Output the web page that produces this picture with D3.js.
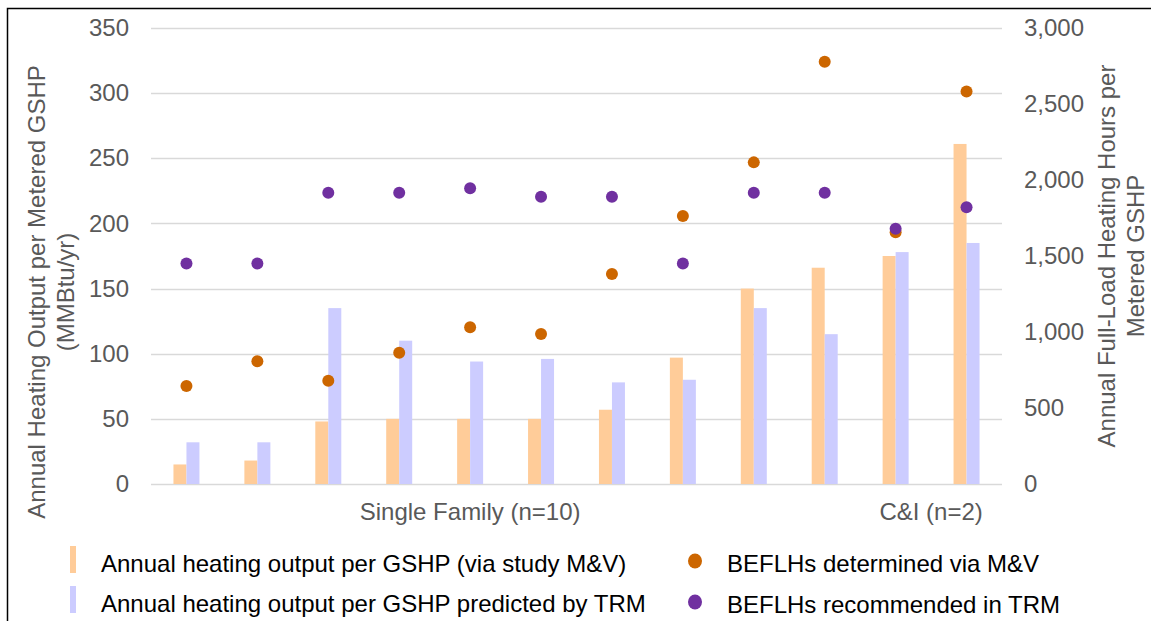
<!DOCTYPE html>
<html>
<head>
<meta charset="utf-8">
<script src="https://cdn.jsdelivr.net/npm/d3@7"></script>
<style>
  body { margin: 0; background: #fff; }
  svg { display: block; font-family: "Liberation Sans", Arial, sans-serif; }
</style>
</head>
<body>
<div id="container"></div>
<script>
var width = 1151;
var height = 621;

// one entry per metered site
var categories = ["SF1","SF2","SF3","SF4","SF5","SF6","SF7","SF8","SF9","SF10","CI1","CI2"];
// MMBtu/yr (left axis)
var mvOutput  = [15, 18, 48, 50, 50, 50, 57, 97, 150, 166, 175, 261];
var trmOutput = [32, 32, 135, 110, 94, 96, 78, 80, 135, 115, 178, 185];
// hours (right axis)
var mvBeflh  = [645, 807, 680, 864, 1031, 987, 1382, 1763, 2116, 2778, 1656, 2583];
var trmBeflh = [1450, 1450, 1916, 1916, 1945, 1890, 1890, 1450, 1916, 1916, 1680, 1820];

var leftTicks = [0, 50, 100, 150, 200, 250, 300, 350];
var rightTicks = [0, 500, 1000, 1500, 2000, 2500, 3000];

var groups = [
  {label: "Single Family (n=10)", at: "SF5", off: 0.5},
  {label: "C&I (n=2)", at: "CI2", off: 0}
];

var legendItems = [
  {label: "Annual heating output per GSHP (via study M&V)", type: "bar", color: "#ffcc99"},
  {label: "Annual heating output per GSHP predicted by TRM", type: "bar", color: "#ccccff"},
  {label: "BEFLHs determined via M&V", type: "dot", color: "#cc6600"},
  {label: "BEFLHs recommended in TRM", type: "dot", color: "#7030a0"}
];

var margin = {left: 151, right: 149, top: 28, bottom: 137};
var plotW = width - margin.left - margin.right;
var plotH = height - margin.top - margin.bottom;

var svg = d3.select("#container").append("svg")
  .attr("width", width)
  .attr("height", height);

// outer frame
svg.append("rect")
  .attr("x", 7.5).attr("y", 8.5)
  .attr("width", width + 20).attr("height", height + 20)
  .attr("fill", "none")
  .attr("stroke", "#000")
  .attr("stroke-width", 1.5);

var x = d3.scaleBand().domain(categories).range([0, plotW]).padding(0);
var bw = x.bandwidth();
var xs = d3.scaleBand().domain(["mv","trm"]).range([0, bw]).paddingInner(0).paddingOuter((bw / 13 - 2) / 2);
var yL = d3.scaleLinear().domain([0, 350]).range([plotH, 0]);
var yR = d3.scaleLinear().domain([0, 3000]).range([plotH, 0]);

var g = svg.append("g").attr("transform", "translate(" + margin.left + "," + margin.top + ")");

// gridlines
g.selectAll("line.grid")
  .data(leftTicks)
  .enter().append("line")
  .attr("class", "grid")
  .attr("x1", 0).attr("x2", plotW)
  .attr("y1", function(d){ return Math.round(yL(d)) + 0.5; })
  .attr("y2", function(d){ return Math.round(yL(d)) + 0.5; })
  .attr("stroke", "#d9d9d9")
  .attr("stroke-width", 1.3);

// left tick labels
var leftAxis = d3.axisLeft(yL).tickValues(leftTicks).tickSize(0).tickPadding(22);
var la = g.append("g").call(leftAxis);
la.select(".domain").remove();
la.selectAll("text").attr("font-size", 24).attr("fill", "#595959").attr("font-family", "Liberation Sans, Arial, sans-serif");

// right tick labels
var rightAxis = d3.axisRight(yR).tickValues(rightTicks).tickSize(0).tickPadding(22).tickFormat(d3.format(","));
var ra = g.append("g").attr("transform", "translate(" + plotW + ",0)").call(rightAxis);
ra.select(".domain").remove();
ra.selectAll("text").attr("font-size", 24).attr("fill", "#595959").attr("font-family", "Liberation Sans, Arial, sans-serif");

// bars
var cats = g.selectAll("g.cat")
  .data(categories)
  .enter().append("g")
  .attr("class", "cat")
  .attr("transform", function(d){ return "translate(" + x(d) + ",0)"; });

cats.append("rect")
  .attr("x", xs("mv"))
  .attr("width", xs.bandwidth())
  .attr("y", function(d,i){ return yL(mvOutput[i]); })
  .attr("height", function(d,i){ return plotH - yL(mvOutput[i]); })
  .attr("fill", "#ffcc99");

cats.append("rect")
  .attr("x", xs("trm"))
  .attr("width", xs.bandwidth())
  .attr("y", function(d,i){ return yL(trmOutput[i]); })
  .attr("height", function(d,i){ return plotH - yL(trmOutput[i]); })
  .attr("fill", "#ccccff");

// dots
g.selectAll("circle.mv")
  .data(mvBeflh)
  .enter().append("circle")
  .attr("cx", function(d,i){ return x(categories[i]) + bw / 2; })
  .attr("cy", function(d){ return yR(d); })
  .attr("r", 6)
  .attr("fill", "#cc6600");

g.selectAll("circle.trm")
  .data(trmBeflh)
  .enter().append("circle")
  .attr("cx", function(d,i){ return x(categories[i]) + bw / 2; })
  .attr("cy", function(d){ return yR(d); })
  .attr("r", 6)
  .attr("fill", "#7030a0");

// group labels under the axis
g.selectAll("text.group")
  .data(groups)
  .enter().append("text")
  .attr("x", function(d){ return x(d.at) + bw * d.off; })
  .attr("y", plotH + 36)
  .attr("text-anchor", "middle")
  .attr("font-size", 24)
  .attr("fill", "#595959")
  .text(function(d){ return d.label; });

// axis titles
var lt = svg.append("text")
  .attr("transform", "translate(45,292) rotate(-90)")
  .attr("text-anchor", "middle")
  .attr("font-size", 24)
  .attr("fill", "#595959");
lt.append("tspan").attr("x", 0).attr("y", 0).text("Annual Heating Output per Metered GSHP");
lt.append("tspan").attr("x", 0).attr("y", 29).text("(MMBtu/yr)");

var rt = svg.append("text")
  .attr("transform", "translate(1115,256) rotate(-90)")
  .attr("text-anchor", "middle")
  .attr("font-size", 24)
  .attr("fill", "#595959");
rt.append("tspan").attr("x", 0).attr("y", 0).text("Annual Full-Load Heating Hours per");
rt.append("tspan").attr("x", 0).attr("y", 29).text("Metered GSHP");

// legend
var legPos = [
  {x: 70, y: 572}, {x: 70, y: 612},
  {x: 695, y: 572}, {x: 695, y: 613}
];
var leg = svg.selectAll("g.leg")
  .data(legendItems)
  .enter().append("g")
  .attr("transform", function(d,i){ return "translate(" + legPos[i].x + "," + legPos[i].y + ")"; });

leg.filter(function(d){ return d.type == "bar"; })
  .append("rect")
  .attr("x", 0).attr("y", -26)
  .attr("width", 6).attr("height", 27)
  .attr("fill", function(d){ return d.color; });

leg.filter(function(d){ return d.type == "dot"; })
  .append("ellipse")
  .attr("cx", 0).attr("cy", -11)
  .attr("rx", 7).attr("ry", 7.5)
  .attr("fill", function(d){ return d.color; });

leg.append("text")
  .attr("x", function(d){ return d.type == "bar" ? 31 : 32; })
  .attr("y", 0)
  .attr("font-size", 24)
  .attr("fill", "#000")
  .text(function(d){ return d.label; });
</script>
</body>
</html>
